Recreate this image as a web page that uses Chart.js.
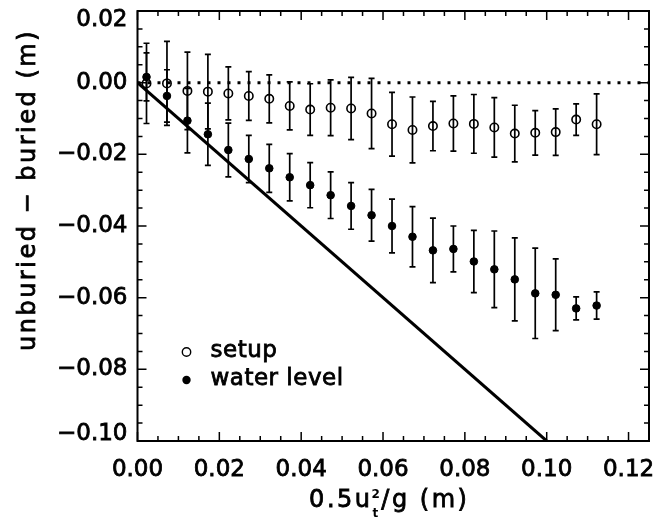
<!DOCTYPE html>
<html>
<head>
<meta charset="utf-8">
<script src="https://cdn.jsdelivr.net/npm/chart.js@4/dist/chart.umd.min.js"></script>
<style>
  html, body { margin: 0; padding: 0; background: #fff; }
  canvas { display: block; }
</style>
</head>
<body>
<canvas id="c" width="657" height="520"></canvas>
<script>
// ---- data ----
const xVals = [0.0022, 0.0072, 0.0122, 0.0172, 0.0222, 0.0272, 0.0322, 0.0372, 0.0422, 0.0472, 0.0522, 0.0572,
               0.0622, 0.0672, 0.0722, 0.0772, 0.0822, 0.0872, 0.0922, 0.0972, 0.1022, 0.1072, 0.1122];
const setupVals = [-0.0002, -0.0002, -0.0023, -0.0025, -0.0030, -0.0037, -0.0045, -0.0065, -0.0075, -0.0070, -0.0072, -0.0086,
                   -0.0116, -0.0132, -0.0121, -0.0114, -0.0115, -0.0125, -0.0142, -0.0140, -0.0138, -0.0103, -0.0116];
const setupErr = [0.0112, 0.0117, 0.0108, 0.0104, 0.0074, 0.0068, 0.0067, 0.0067, 0.0072, 0.0078, 0.0087, 0.0098,
                  0.0089, 0.0092, 0.0069, 0.0077, 0.0082, 0.0083, 0.0079, 0.0062, 0.0065, 0.0044, 0.0085];
const waterVals = [0.0016, -0.0037, -0.0106, -0.0144, -0.0188, -0.0213, -0.0239, -0.0264, -0.0286, -0.0314, -0.0344, -0.0370,
                   -0.0400, -0.0430, -0.0468, -0.0464, -0.0499, -0.0521, -0.0549, -0.0588, -0.0592, -0.0630, -0.0622];
const waterErr = [0.0067, 0.0073, 0.0090, 0.0087, 0.0075, 0.0066, 0.0067, 0.0066, 0.0063, 0.0065, 0.0065, 0.0072,
                  0.0075, 0.0084, 0.0090, 0.0064, 0.0087, 0.0107, 0.0116, 0.0126, 0.0100, 0.0032, 0.0038];
const refLineX = [0, 0.10];      // y = -x reference line
const refLineY = [0, -0.10];
const zeroLineX = [0, 0.125];
const zeroLineY = [0, 0];
const xTickVals = [0, 0.02, 0.04, 0.06, 0.08, 0.10, 0.12];
const yTickVals = [-0.10, -0.08, -0.06, -0.04, -0.02, 0.00, 0.02];
const legendLabels = ['setup', 'water level'];
const yTitle = 'unburied \u2212 buried (m)';

const FONT = 'DejaVu Sans';
const TICK_SIZE = 23, TITLE_SIZE = 24, LEG_SIZE = 23;
const STROKE = 0.8;

const toPts = (xs, ys) => xs.map((x, i) => ({ x: x, y: ys[i] }));
const fmt = v => { const s = Math.abs(v) < 1e-9 ? '0.00' : Math.abs(v).toFixed(2); return (v < -1e-9 ? '\u2212' : '') + s; };

function txt(ctx, s, x, y) {
  ctx.fillText(s, x, y);
  ctx.lineWidth = STROKE;
  ctx.strokeText(s, x, y);
}

const decor = {
  id: 'decor',
  beforeLayout(chart) { chart.ctx.letterSpacing = '0px'; },
  beforeDraw(chart) {
    // keep the end labels of the y axis inside the frame height, as in the reference
    const ys = chart.scales.y;
    const items = ys.getLabelItems();
    if (items && items.length) {
      const first = items[0], last = items[items.length - 1];
      first.options.translation = [first.options.translation[0], first.options.translation[1] - 7];
      last.options.translation = [last.options.translation[0], last.options.translation[1] + 9];
    }
  },
  afterDraw(chart) {
    const ctx = chart.ctx, xs = chart.scales.x, ys = chart.scales.y, a = chart.chartArea;
    ctx.save();
    ctx.setLineDash([]);
    ctx.globalAlpha = 1;
    ctx.strokeStyle = '#000';
    ctx.fillStyle = '#000';
    // error bars
    ctx.lineWidth = 1.7;
    const cap = 3;
    const drawErr = (vals, errs) => {
      vals.forEach((v, i) => {
        const px = xs.getPixelForValue(xVals[i]);
        const top = ys.getPixelForValue(v + errs[i]);
        const bot = ys.getPixelForValue(v - errs[i]);
        ctx.beginPath();
        ctx.moveTo(px, top); ctx.lineTo(px, bot);
        ctx.moveTo(px - cap, top); ctx.lineTo(px + cap, top);
        ctx.moveTo(px - cap, bot); ctx.lineTo(px + cap, bot);
        ctx.stroke();
      });
    };
    drawErr(setupVals, setupErr);
    drawErr(waterVals, waterErr);

    // frame
    ctx.lineWidth = 2;
    ctx.beginPath();
    ctx.moveTo(a.left, a.top);
    ctx.lineTo(a.right, a.top);
    ctx.lineTo(a.right, a.bottom);
    ctx.lineTo(a.left, a.bottom);
    ctx.closePath();
    ctx.stroke();

    // inward ticks on all four sides
    ctx.lineWidth = 1.5;
    const isMajor = (v) => Math.abs(v / 0.02 - Math.round(v / 0.02)) < 1e-6;
    ctx.beginPath();
    for (let k = 0; k <= 25; k++) {
      const v = k * 0.005;
      const px = xs.getPixelForValue(v);
      if (px < a.left - 0.5 || px > a.right + 0.5) continue;
      const L = isMajor(v) ? 9 : 5;
      ctx.moveTo(px, a.bottom); ctx.lineTo(px, a.bottom - L);
      ctx.moveTo(px, a.top); ctx.lineTo(px, a.top + L);
    }
    for (let k = -20; k <= 4; k++) {
      const v = k * 0.005;
      const py = ys.getPixelForValue(v);
      const L = isMajor(v) ? 9 : 5;
      ctx.moveTo(a.left, py); ctx.lineTo(a.left + L, py);
      ctx.moveTo(a.right, py); ctx.lineTo(a.right - L, py);
    }
    ctx.stroke();

    // legend
    ctx.letterSpacing = '0.5px';
    ctx.font = LEG_SIZE + 'px "' + FONT + '"';
    ctx.textBaseline = 'middle';
    ctx.textAlign = 'left';
    const lx = a.left + 49, ly1 = a.top + 341, ly2 = a.top + 369;
    ctx.lineWidth = 1.4;
    ctx.beginPath(); ctx.arc(lx, ly1, 4.2, 0, Math.PI * 2); ctx.stroke();
    ctx.beginPath(); ctx.arc(lx, ly2, 4.2, 0, Math.PI * 2); ctx.fill();
    txt(ctx, legendLabels[0], lx + 24, ly1 - 1);
    txt(ctx, legendLabels[1], lx + 24, ly2 - 1);

    // y title (rotated)
    ctx.letterSpacing = '2.5px';
    ctx.font = TITLE_SIZE + 'px "' + FONT + '"';
    ctx.save();
    ctx.translate(35, 190);
    ctx.rotate(-Math.PI / 2);
    ctx.textAlign = 'center';
    ctx.textBaseline = 'alphabetic';
    txt(ctx, yTitle, 0, 0);
    ctx.restore();

    // x title: 0.5u (2 over t) /g (m)
    const p1 = '0.5u', p3 = '/g (m)';
    const big = TITLE_SIZE + 'px "' + FONT + '"', small = 'bold 12px "' + FONT + '"';
    ctx.font = big;
    const w1 = ctx.measureText(p1).width, w3 = ctx.measureText(p3).width;
    ctx.font = small;
    const w2 = Math.max(ctx.measureText('2').width, ctx.measureText('t').width);
    const tot = w1 + w2 + w3;
    const cx = (a.left + a.right) / 2 - 3;
    const x0 = cx - tot / 2;
    const base = 507;
    ctx.textBaseline = 'alphabetic';
    ctx.textAlign = 'left';
    ctx.font = big;
    txt(ctx, p1, x0, base);
    ctx.font = small;
    ctx.letterSpacing = '0px';
    ctx.fillText('2', x0 + w1 - 1, base - 9);
    ctx.fillText('t', x0 + w1, base + 10);
    ctx.letterSpacing = '2.5px';
    ctx.font = big;
    txt(ctx, p3, x0 + w1 + w2 - 2, base);
    ctx.restore();
  }
};

new Chart(document.getElementById('c'), {
  type: 'scatter',
  data: {
    datasets: [
      { label: 'zero', data: toPts(zeroLineX, zeroLineY), showLine: true, borderColor: '#000', borderWidth: 3,
        borderDash: [3, 7], pointRadius: 0, borderCapStyle: 'butt', order: 4 },
      { label: 'ref', data: toPts(refLineX, refLineY), showLine: true, borderColor: '#000', borderWidth: 3,
        pointRadius: 0, order: 3 },
      { label: legendLabels[0], data: toPts(xVals, setupVals), pointStyle: 'circle', pointRadius: 4.2,
        pointBorderWidth: 1.6, borderColor: '#000', backgroundColor: 'rgba(0,0,0,0)', order: 2 },
      { label: legendLabels[1], data: toPts(xVals, waterVals), pointStyle: 'circle', pointRadius: 3.8,
        pointBorderWidth: 1, borderColor: '#000', backgroundColor: '#000', order: 1 }
    ]
  },
  options: {
    responsive: false,
    animation: false,
    devicePixelRatio: 1,
    layout: { padding: { top: 11, right: 8, left: 0, bottom: 0 } },
    plugins: { legend: { display: false }, tooltip: { enabled: false } },
    scales: {
      x: {
        type: 'linear', min: 0, max: 0.125,
        afterBuildTicks: s => { s.ticks = xTickVals.map(v => ({ value: v })); },
        ticks: { callback: v => fmt(v), color: '#000', font: { family: FONT, size: TICK_SIZE },
                 textStrokeColor: '#000', textStrokeWidth: STROKE, padding: 15, maxRotation: 0, autoSkip: false },
        grid: { display: false, drawTicks: false },
        border: { display: false },
        afterFit: s => { s.height = 79; s.paddingLeft = 0; s.paddingRight = 0; }
      },
      y: {
        type: 'linear', min: -0.10, max: 0.02,
        afterBuildTicks: s => { s.ticks = yTickVals.map(v => ({ value: v })); },
        ticks: { callback: v => fmt(v), color: '#000', font: { family: FONT, size: TICK_SIZE },
                 textStrokeColor: '#000', textStrokeWidth: STROKE, padding: 10, autoSkip: false },
        grid: { display: false, drawTicks: false },
        border: { display: false },
        afterFit: s => { s.width = 137.5; s.paddingTop = 0; s.paddingBottom = 0; }
      }
    }
  },
  plugins: [decor]
});
</script>
</body>
</html>
